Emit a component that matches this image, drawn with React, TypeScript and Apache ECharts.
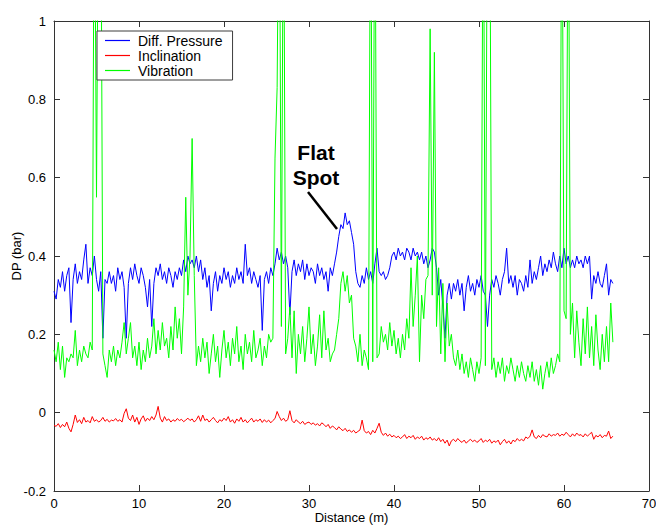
import React, { useEffect, useRef } from "react";
import * as echarts from "echarts";

// distance step between samples (m)
const STEP = 0.25;

// Diff. Pressure (bar), one row per metre (4 samples each)
const diffPressure: number[] = [
  0.31, 0.29, 0.34, 0.32,
  0.36, 0.31, 0.35, 0.37,
  0.23, 0.34, 0.38, 0.33,
  0.36, 0.34, 0.39, 0.43,
  0.33, 0.37, 0.35, 0.40,
  0.34, 0.31, 0.36, 0.19,
  0.34, 0.33, 0.36, 0.33,
  0.35, 0.31, 0.37, 0.34,
  0.36, 0.32, 0.19, 0.33,
  0.37, 0.34, 0.38, 0.35,
  0.33, 0.37, 0.35, 0.32,
  0.27, 0.34, 0.22, 0.33,
  0.37, 0.35, 0.38, 0.34,
  0.36, 0.33, 0.37, 0.35,
  0.32, 0.36, 0.34, 0.37,
  0.35, 0.39, 0.36, 0.40,
  0.38, 0.39, 0.37, 0.40,
  0.36, 0.39, 0.34, 0.37,
  0.32, 0.35, 0.26, 0.33,
  0.36, 0.31, 0.35, 0.33,
  0.37, 0.34, 0.36, 0.32,
  0.35, 0.33, 0.37, 0.34,
  0.36, 0.33, 0.43, 0.35,
  0.37, 0.33, 0.36, 0.34,
  0.32, 0.35, 0.21, 0.34,
  0.36, 0.33, 0.37, 0.35,
  0.38, 0.42, 0.39, 0.41,
  0.38, 0.40, 0.37, 0.25,
  0.36, 0.39, 0.35, 0.38,
  0.36, 0.39, 0.34, 0.38,
  0.35, 0.37, 0.36, 0.33,
  0.38, 0.35, 0.37, 0.34,
  0.36, 0.31, 0.37, 0.35,
  0.38, 0.41, 0.45, 0.48,
  0.47, 0.51, 0.48, 0.49,
  0.46, 0.43, 0.36, 0.33,
  0.32, 0.35, 0.33, 0.37,
  0.34, 0.36, 0.33, 0.38,
  0.42, 0.36, 0.35, 0.36,
  0.34, 0.35, 0.37, 0.40,
  0.41, 0.39, 0.42, 0.40,
  0.41, 0.39, 0.42, 0.41,
  0.39, 0.42, 0.40, 0.41,
  0.39, 0.41, 0.38, 0.40,
  0.37, 0.39, 0.42, 0.41,
  0.37, 0.30, 0.34, 0.27,
  0.19, 0.30, 0.33, 0.29,
  0.33, 0.31, 0.34, 0.30,
  0.33, 0.26, 0.32, 0.35,
  0.31, 0.33, 0.30, 0.34,
  0.32, 0.35, 0.31, 0.30,
  0.22, 0.30, 0.34, 0.32,
  0.35, 0.33, 0.30, 0.34,
  0.36, 0.42, 0.33, 0.35,
  0.32, 0.35, 0.30, 0.34,
  0.33, 0.31, 0.35, 0.32,
  0.39, 0.33, 0.36, 0.34,
  0.37, 0.40, 0.35, 0.38,
  0.36, 0.39, 0.37, 0.41,
  0.38, 0.36, 0.40, 0.37,
  0.42, 0.38, 0.40, 0.37,
  0.39, 0.37, 0.40, 0.38,
  0.39, 0.37, 0.40, 0.38,
  0.40, 0.29, 0.35, 0.33,
  0.36, 0.33, 0.32, 0.35,
  0.38, 0.30, 0.34, 0.33,
];

// Inclination
const inclination: number[] = [
  -0.032, -0.035, -0.028, -0.038,
  -0.030, -0.036, -0.024, -0.040,
  -0.049, -0.030, -0.006, -0.025,
  -0.018, -0.028, -0.012, -0.024,
  -0.020, -0.026, -0.010, -0.022,
  -0.018, -0.024, -0.020, -0.012,
  -0.022, -0.017, -0.024, -0.019,
  -0.021, -0.015, -0.022, -0.018,
  -0.024, -0.002, 0.010, -0.014,
  -0.020, -0.006, -0.024, -0.012,
  -0.030, -0.016, -0.008, -0.022,
  -0.014, -0.020, -0.010, -0.018,
  -0.006, 0.016, -0.014, -0.024,
  -0.010, -0.020, -0.016, -0.024,
  -0.018, -0.022, -0.015, -0.020,
  -0.017, -0.023, -0.019, -0.014,
  -0.020, -0.016, -0.024, -0.018,
  -0.008, -0.022, -0.006, -0.020,
  -0.016, -0.024, -0.018, -0.012,
  -0.020, -0.026, -0.018, -0.022,
  -0.014, -0.020, -0.010, -0.024,
  -0.018, -0.027, -0.016, -0.022,
  -0.012, -0.024, -0.018, -0.026,
  -0.020, -0.014, -0.024, -0.018,
  -0.022, -0.016, -0.025, -0.018,
  -0.024, -0.019, -0.026, -0.020,
  -0.015, 0.003, -0.010, -0.020,
  -0.014, -0.022, -0.018, 0.005,
  -0.020, -0.026, -0.018, -0.024,
  -0.028, -0.022, -0.030, -0.026,
  -0.024, -0.030, -0.026, -0.032,
  -0.028, -0.034, -0.026, -0.030,
  -0.036, -0.030, -0.040, -0.034,
  -0.038, -0.044, -0.036, -0.042,
  -0.046, -0.040, -0.048, -0.044,
  -0.050, -0.045, -0.052, -0.048,
  -0.044, -0.019, -0.046, -0.052,
  -0.048, -0.056, -0.045, -0.052,
  -0.040, -0.027, -0.050, -0.058,
  -0.052, -0.060, -0.055, -0.062,
  -0.058, -0.064, -0.060, -0.066,
  -0.062, -0.056, -0.066, -0.060,
  -0.064, -0.058, -0.068, -0.062,
  -0.066, -0.060, -0.070, -0.064,
  -0.068, -0.062, -0.070, -0.066,
  -0.072, -0.064, -0.074, -0.068,
  -0.078, -0.070, -0.085, -0.072,
  -0.068, -0.074, -0.066, -0.072,
  -0.076, -0.070, -0.078, -0.072,
  -0.068, -0.074, -0.070, -0.076,
  -0.072, -0.066, -0.076, -0.070,
  -0.074, -0.068, -0.078, -0.072,
  -0.076, -0.070, -0.082, -0.074,
  -0.068, -0.078, -0.072, -0.080,
  -0.070, -0.074, -0.066, -0.072,
  -0.068, -0.072, -0.062, -0.066,
  -0.060, -0.044, -0.062, -0.066,
  -0.058, -0.064, -0.056, -0.060,
  -0.062, -0.054, -0.060, -0.056,
  -0.058, -0.052, -0.060, -0.055,
  -0.058, -0.050, -0.056, -0.062,
  -0.054, -0.060, -0.052, -0.058,
  -0.056, -0.062, -0.054, -0.060,
  -0.055, -0.050, -0.068, -0.058,
  -0.062, -0.056, -0.064, -0.058,
  -0.060, -0.047, -0.066, -0.060,
];

// Vibration (values above 1 run off the top of the axes)
const vibration: number[] = [
  0.16, 0.13, 0.18, 0.11,
  0.17, 0.09, 0.14, 0.13,
  0.15, 0.14, 0.21, 0.12,
  0.16, 0.13, 0.17, 0.15,
  0.14, 0.18, 0.16, 1.5,
  0.55, 1.5, 1.5, 0.15,
  0.12, 0.09, 0.16, 0.13,
  0.17, 0.12, 0.16, 0.14,
  0.18, 0.23, 0.15, 0.19,
  0.23, 0.14, 0.17, 0.12,
  0.18, 0.11, 0.16, 0.13,
  0.19, 0.14, 0.17, 0.24,
  0.15, 0.21, 0.16, 0.23,
  0.17, 0.19, 0.14, 0.22,
  0.16, 0.27, 0.19, 0.24,
  0.15, 0.27, 0.55, 0.30,
  0.40, 0.70, 0.35, 0.12,
  0.17, 0.13, 0.19, 0.14,
  0.18, 0.10, 0.15, 0.20,
  0.13, 0.17, 0.09, 0.16,
  0.21, 0.14, 0.18, 0.12,
  0.19, 0.15, 0.22, 0.13,
  0.17, 0.11, 0.20, 0.15,
  0.18, 0.13, 0.21, 0.14,
  0.16, 0.19, 0.12, 0.17,
  0.14, 0.20, 0.18, 0.19,
  0.65, 0.83, 1.5, 0.22,
  1.5, 0.15, 0.19, 0.27,
  0.14, 0.26, 0.10, 0.20,
  0.15, 0.22, 0.13, 0.19,
  0.27, 0.15, 0.20, 0.12,
  0.17, 0.25, 0.14, 0.26,
  0.16, 0.19, 0.13, 0.15,
  0.16, 0.20, 0.24, 0.33,
  0.36, 0.31, 0.35, 0.28,
  0.30, 0.19, 0.17, 0.13,
  0.20, 0.12, 0.16, 0.14,
  0.11, 1.5, 0.13, 1.5,
  0.14, 0.15, 0.22, 0.18,
  0.20, 0.16, 0.23, 0.17,
  0.21, 0.15, 0.19, 0.14,
  0.20, 0.16, 0.24, 0.19,
  0.37, 0.22, 0.30, 0.40,
  0.13, 0.30, 0.24, 0.34,
  0.35, 0.98, 0.30, 0.92,
  0.22, 0.37, 0.15, 0.33,
  0.13, 0.28, 0.17, 0.20,
  0.14, 0.12, 0.16, 0.11,
  0.15, 0.10, 0.13, 0.09,
  0.14, 0.11, 0.08, 0.13,
  0.10, 0.14, 1.5, 0.12,
  1.5, 1.5, 0.11, 0.14,
  0.09, 0.13, 0.10, 0.14,
  0.08, 0.12, 0.10, 0.14,
  0.11, 0.08, 0.12, 0.09,
  0.13, 0.10, 0.08, 0.12,
  0.09, 0.13, 0.08, 0.11,
  0.07, 0.12, 0.06, 0.10,
  0.13, 0.09, 0.14, 0.10,
  0.12, 0.15, 0.13, 1.5,
  0.26, 0.24, 1.5, 0.20,
  0.28, 0.14, 0.26, 0.18,
  0.12, 0.24, 0.15, 0.27,
  0.14, 0.22, 0.12, 0.25,
  0.16, 0.11, 0.20, 0.13,
  0.22, 0.13, 0.28, 0.18,
];

const seriesNames = ["Diff. Pressure", "Inclination", "Vibration"];
const seriesColors = ["#0000ff", "#ff0000", "#00ff00"];
const seriesValues = [diffPressure, inclination, vibration];

const FONT = "Arial, 'Liberation Sans', Helvetica, sans-serif";
const AXIS_COLOR = "#333333";
const LINE_ICON = "path://M0,0H25V1.2H0Z";
const X_MIN = 0;
const X_MAX = 70;
const Y_MIN = -0.2;
const Y_MAX = 1;

export default function App() {
  const ref = useRef<HTMLDivElement>(null);

  useEffect(() => {
    if (!ref.current) return;
    const chart = echarts.init(ref.current, undefined, { renderer: "svg" });

    const makeAxisStyle = () => ({
      axisLine: { show: true, onZero: false, lineStyle: { color: AXIS_COLOR, width: 1 } },
      axisTick: {
        show: true,
        inside: true,
        length: 6,
        lineStyle: { color: AXIS_COLOR, width: 1 },
      },
      splitLine: { show: false },
    });

    const option: any = {
      animation: false,
      backgroundColor: "#ffffff",
      grid: {
        left: 54,
        right: 7,
        top: 21,
        bottom: 34,
        containLabel: false,
        outerBoundsMode: "none",
      },
      legend: {
        data: seriesNames.map((n, k) => ({
          name: n,
          icon: LINE_ICON,
          itemStyle: { color: seriesColors[k] },
        })),
        orient: "vertical",
        left: 97,
        top: 31,
        z: 10,
        backgroundColor: "#ffffff",
        borderColor: "#3c3c3c",
        borderWidth: 1,
        padding: [2, 10, 2, 8],
        itemWidth: 25,
        itemHeight: 15,
        itemGap: 0,
        symbolKeepAspect: true,
        textStyle: {
          fontFamily: FONT,
          fontSize: 14,
          color: "#000",
          lineHeight: 15,
          padding: [0, 0, 0, 3],
        },
      },
      xAxis: [
        {
          type: "value",
          position: "bottom",
          min: X_MIN,
          max: X_MAX,
          interval: 10,
          name: "Distance (m)",
          nameLocation: "middle",
          nameGap: 20,
          nameMoveOverlap: false,
          nameTextStyle: { fontFamily: FONT, fontSize: 13, color: "#000" },
          axisLabel: { show: true, fontFamily: FONT, fontSize: 13, color: "#000", margin: 6 },
          ...makeAxisStyle(),
        },
        {
          type: "value",
          position: "top",
          min: X_MIN,
          max: X_MAX,
          interval: 10,
          axisLabel: { show: false },
          ...makeAxisStyle(),
        },
      ],
      yAxis: [
        {
          type: "value",
          position: "left",
          min: Y_MIN,
          max: Y_MAX,
          interval: 0.2,
          name: "DP (bar)",
          nameLocation: "middle",
          nameGap: 31,
          nameMoveOverlap: false,
          nameTextStyle: { fontFamily: FONT, fontSize: 13, color: "#000" },
          axisLabel: {
            show: true,
            fontFamily: FONT,
            fontSize: 13,
            color: "#000",
            margin: 8,
            formatter: (v: number) => String(Math.round(v * 10) / 10),
          },
          ...makeAxisStyle(),
        },
        {
          type: "value",
          position: "right",
          min: Y_MIN,
          max: Y_MAX,
          interval: 0.2,
          axisLabel: { show: false },
          ...makeAxisStyle(),
        },
      ],
      series: seriesValues.map((vals, k) => ({
        name: seriesNames[k],
        type: "line",
        xAxisIndex: 0,
        yAxisIndex: 0,
        data: vals.map((v, i) => [i * STEP, v]),
        symbol: "none",
        showSymbol: false,
        clip: true,
        color: seriesColors[k],
        itemStyle: { color: seriesColors[k] },
        lineStyle: { color: seriesColors[k], width: 1 },
        emphasis: { disabled: true },
      })),
      graphic: [
        {
          type: "text",
          x: 316,
          y: 165,
          style: {
            text: "Flat\nSpot",
            font: `bold 21px ${FONT}`,
            fill: "#000",
            align: "center",
            verticalAlign: "middle",
            lineHeight: 25,
          },
        },
        {
          type: "line",
          shape: { x1: 308, y1: 192, x2: 337, y2: 229 },
          style: { stroke: "#000", lineWidth: 2.5 },
        },
      ],
    };

    chart.setOption(option);
    return () => chart.dispose();
  }, []);

  return (
    <div
      ref={ref}
      style={{ position: "fixed", left: 0, top: 0, width: 656, height: 525, background: "#fff" }}
    />
  );
}
